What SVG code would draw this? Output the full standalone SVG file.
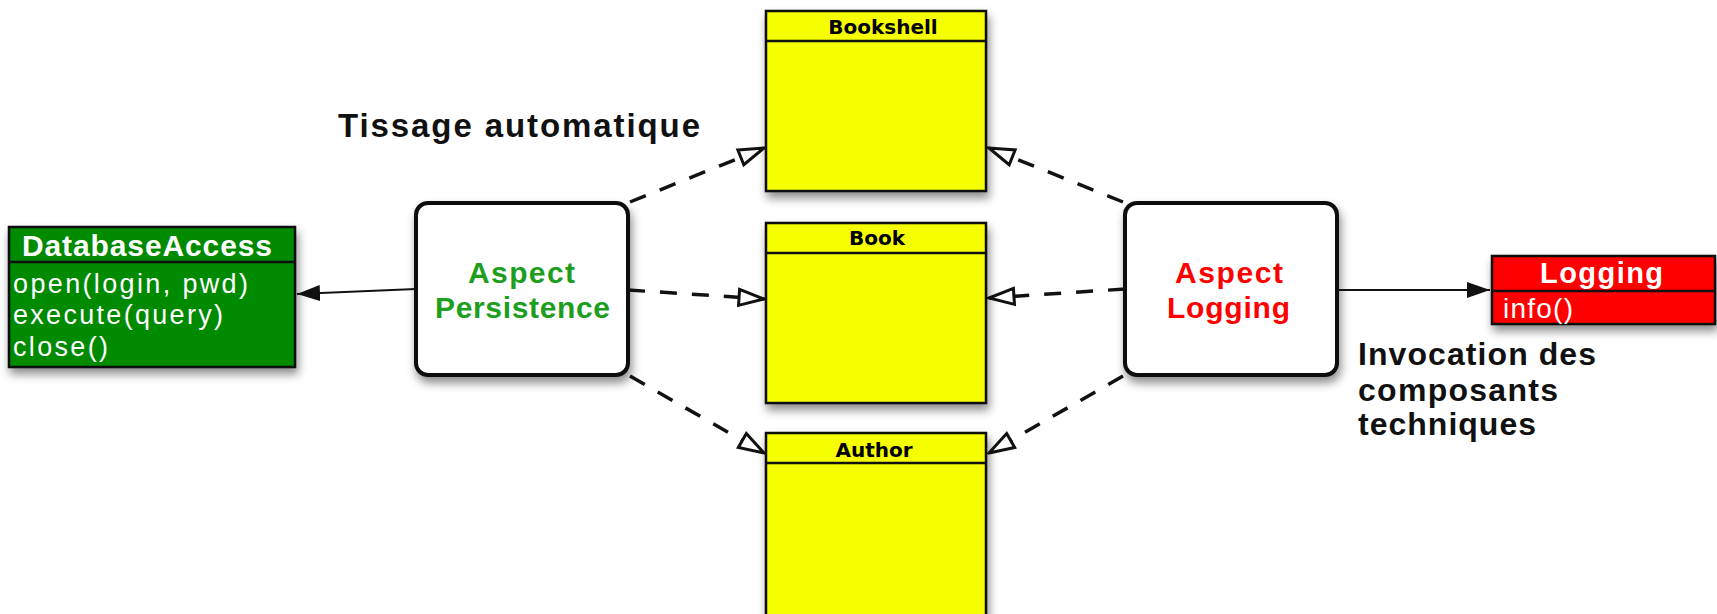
<svg xmlns="http://www.w3.org/2000/svg" width="1717" height="614" viewBox="0 0 1717 614">
<style>
.cls{fill:#F5FF00;stroke:#111;stroke-width:2.5}
.hdr{font-family:"DejaVu Sans",sans-serif;font-weight:bold;font-size:20px;fill:#000}
.asp{fill:#fff;stroke:#111;stroke-width:4}
.at{font-family:"Liberation Sans",Arial,sans-serif;font-weight:bold;font-size:30px}
.lbl{font-family:"Liberation Sans",Arial,sans-serif;font-weight:bold;fill:#111}
.wt{font-family:"Liberation Sans",Arial,sans-serif;fill:#fff}
.dash{fill:none;stroke:#111;stroke-width:3.5;stroke-dasharray:17 15;marker-end:url(#open)}
.solid{fill:none;stroke:#111;stroke-width:2;marker-end:url(#filled)}
</style>
<defs>
<filter id="sh" x="-20%" y="-20%" width="140%" height="150%">
<feDropShadow dx="2" dy="6" stdDeviation="5" flood-color="#000" flood-opacity="0.45"/>
</filter>
<marker id="open" markerUnits="userSpaceOnUse" viewBox="-3 -12 30 24" refX="25" refY="0" markerWidth="30" markerHeight="24" orient="auto">
<path d="M0,-8 L25,0 L0,8 Z" fill="#fff" stroke="#111" stroke-width="3" stroke-linejoin="miter"/>
</marker>
<marker id="filled" markerUnits="userSpaceOnUse" viewBox="0 -10 24 20" refX="23" refY="0" markerWidth="24" markerHeight="20" orient="auto">
<path d="M0,-8 L23,0 L0,8 Z" fill="#111"/>
</marker>
</defs>
<rect width="1717" height="614" fill="#fff"/>

<g id="bookshell">
<rect class="cls" x="766" y="11" width="220" height="180" filter="url(#sh)"/>
<line x1="766" y1="41" x2="986" y2="41" stroke="#111" stroke-width="2.5"/>
<text class="hdr" x="883" y="34" text-anchor="middle">Bookshell</text>
</g>
<g id="book">
<rect class="cls" x="766" y="223" width="220" height="180" filter="url(#sh)"/>
<line x1="766" y1="253" x2="986" y2="253" stroke="#111" stroke-width="2.5"/>
<text class="hdr" x="877" y="245" text-anchor="middle">Book</text>
</g>
<g id="author">
<rect class="cls" x="766" y="433" width="220" height="200" filter="url(#sh)"/>
<line x1="766" y1="463" x2="986" y2="463" stroke="#111" stroke-width="2.5"/>
<text class="hdr" x="874" y="457" text-anchor="middle">Author</text>
</g>

<g id="aspect-persistence">
<rect class="asp" x="416" y="203" width="212" height="172" rx="12" filter="url(#sh)"/>
<text class="at" fill="#1E9E1E" x="468" y="283" textLength="107" lengthAdjust="spacing">Aspect</text>
<text class="at" fill="#1E9E1E" x="435" y="318" textLength="175" lengthAdjust="spacing">Persistence</text>
</g>
<g id="aspect-logging">
<rect class="asp" x="1125" y="203" width="212" height="172" rx="12" filter="url(#sh)"/>
<text class="at" fill="#FF0000" x="1175" y="283" textLength="108" lengthAdjust="spacing">Aspect</text>
<text class="at" fill="#FF0000" x="1167" y="318" textLength="123" lengthAdjust="spacing">Logging</text>
</g>

<g id="database-access">
<rect x="9" y="227" width="286" height="140" fill="#008A00" stroke="#111" stroke-width="2.5" filter="url(#sh)"/>
<line x1="9" y1="262" x2="295" y2="262" stroke="#111" stroke-width="2.5"/>
<text class="wt" x="22" y="256" font-size="30" font-weight="bold" textLength="250" lengthAdjust="spacing">DatabaseAccess</text>
<text class="wt" x="13" y="293" font-size="27" textLength="235" lengthAdjust="spacing">open(login, pwd)</text>
<text class="wt" x="13" y="324" font-size="27" textLength="210" lengthAdjust="spacing">execute(query)</text>
<text class="wt" x="13" y="356" font-size="27" textLength="95" lengthAdjust="spacing">close()</text>
</g>

<g id="logging">
<rect x="1492" y="256" width="223" height="68" fill="#FF0000" stroke="#111" stroke-width="2.5" filter="url(#sh)"/>
<line x1="1492" y1="291" x2="1715" y2="291" stroke="#111" stroke-width="2.5"/>
<text class="wt" x="1540" y="283" font-size="29" font-weight="bold" textLength="123" lengthAdjust="spacing">Logging</text>
<text class="wt" x="1503" y="318" font-size="28" textLength="70" lengthAdjust="spacing">info()</text>
</g>

<g id="connectors">
<path class="dash" d="M630,202 L764,148"/>
<path class="dash" d="M628,290 L764,299"/>
<path class="dash" d="M630,376 L764,453"/>
<path class="dash" d="M1123,202 L989,148"/>
<path class="dash" d="M1125,289 L989,298"/>
<path class="dash" d="M1123,376 L989,453"/>
<path class="solid" d="M416,289 L297,294"/>
<path class="solid" d="M1337,290 L1490,290"/>
</g>

<g id="labels">
<text class="lbl" x="338" y="137" font-size="33" textLength="362" lengthAdjust="spacing">Tissage automatique</text>
<text class="lbl" x="1358" y="365" font-size="32" textLength="238" lengthAdjust="spacing">Invocation des</text>
<text class="lbl" x="1358" y="401" font-size="32" textLength="200" lengthAdjust="spacing">composants</text>
<text class="lbl" x="1358" y="435" font-size="32" textLength="178" lengthAdjust="spacing">techniques</text>
</g>
</svg>
